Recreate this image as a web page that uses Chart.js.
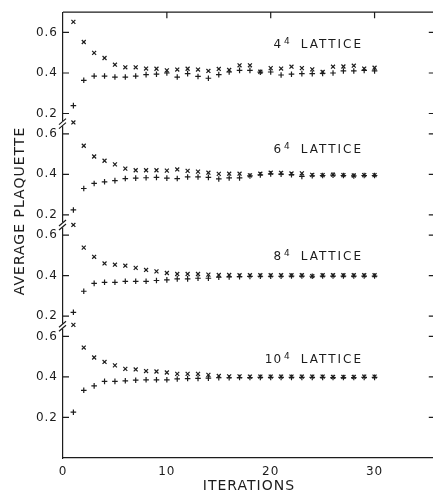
<!DOCTYPE html>
<html>
<head>
<meta charset="utf-8">
<script src="https://cdn.jsdelivr.net/npm/chart.js@4.4.1/dist/chart.umd.min.js"></script>
<style>
  html, body { margin: 0; padding: 0; background: #fff; overflow: hidden; width: 433px; height: 496px; }
  canvas { display: block; }
</style>
</head>
<body>
<canvas id="grafico" width="440" height="496"></canvas>
<script>
// iteraciones (eje x)
const ITERACIONES = [1, 2, 3, 4, 5, 6, 7, 8, 9, 10, 11, 12, 13, 14, 15, 16, 17, 18, 19, 20, 21, 22, 23, 24, 25, 26, 27, 28, 29, 30];

// tamaño del retículo de cada panel, de arriba a abajo
const RETICULOS = ["4", "6", "8", "10"];

// plaqueta media: arranque en frío (x) y en caliente (+)
const CRUCES_4 = [0.652, 0.553, 0.499, 0.474, 0.441, 0.428, 0.428, 0.422, 0.421, 0.413, 0.417, 0.421, 0.417, 0.41, 0.42, 0.415, 0.438, 0.438, 0.406, 0.424, 0.422, 0.431, 0.424, 0.418, 0.405, 0.431, 0.432, 0.436, 0.422, 0.426];
const MAS_4 = [0.239, 0.364, 0.385, 0.385, 0.38, 0.38, 0.385, 0.392, 0.394, 0.4, 0.38, 0.397, 0.383, 0.374, 0.392, 0.405, 0.413, 0.413, 0.404, 0.405, 0.39, 0.394, 0.397, 0.397, 0.398, 0.4, 0.41, 0.41, 0.413, 0.41];

const CRUCES_6 = [0.656, 0.541, 0.488, 0.467, 0.449, 0.428, 0.42, 0.42, 0.42, 0.418, 0.424, 0.417, 0.413, 0.408, 0.402, 0.403, 0.403, 0.395, 0.403, 0.408, 0.407, 0.404, 0.405, 0.397, 0.396, 0.398, 0.396, 0.394, 0.396, 0.396];
const MAS_6 = [0.224, 0.33, 0.355, 0.363, 0.369, 0.379, 0.381, 0.383, 0.385, 0.381, 0.379, 0.387, 0.387, 0.385, 0.377, 0.382, 0.382, 0.392, 0.397, 0.402, 0.401, 0.398, 0.39, 0.393, 0.394, 0.396, 0.394, 0.392, 0.394, 0.394];

const CRUCES_8 = [0.65, 0.538, 0.493, 0.46, 0.454, 0.449, 0.438, 0.428, 0.421, 0.413, 0.408, 0.408, 0.408, 0.405, 0.403, 0.403, 0.402, 0.402, 0.402, 0.402, 0.402, 0.402, 0.402, 0.398, 0.402, 0.402, 0.402, 0.402, 0.402, 0.402];
const MAS_8 = [0.219, 0.323, 0.362, 0.367, 0.367, 0.372, 0.372, 0.372, 0.376, 0.379, 0.384, 0.384, 0.387, 0.387, 0.392, 0.394, 0.395, 0.396, 0.397, 0.397, 0.397, 0.398, 0.398, 0.397, 0.398, 0.398, 0.398, 0.398, 0.398, 0.398];

const CRUCES_10 = [0.657, 0.545, 0.496, 0.474, 0.457, 0.44, 0.437, 0.429, 0.427, 0.422, 0.415, 0.415, 0.415, 0.41, 0.405, 0.403, 0.403, 0.402, 0.402, 0.402, 0.402, 0.402, 0.402, 0.402, 0.402, 0.4, 0.4, 0.4, 0.402, 0.402];
const MAS_10 = [0.226, 0.334, 0.356, 0.378, 0.378, 0.381, 0.384, 0.386, 0.386, 0.386, 0.39, 0.392, 0.393, 0.394, 0.396, 0.396, 0.397, 0.397, 0.398, 0.398, 0.398, 0.398, 0.398, 0.398, 0.398, 0.397, 0.397, 0.397, 0.398, 0.398];

const CRUCES = [CRUCES_4, CRUCES_6, CRUCES_8, CRUCES_10];
const MAS = [MAS_4, MAS_6, MAS_8, MAS_10];

// marcas de los ejes
const TICKS_X = [0, 10, 20, 30];
const TICKS_Y = [0.2, 0.4, 0.6];
const TICKS_Y_TXT = ["0.2", "0.4", "0.6"];

// eje y partido: cada panel se desplaza hacia arriba
const DESPLAZAMIENTO = [1.5, 1.0, 0.5, 0];
const ETIQUETA_Y = [0.525, 0.505, 0.475, 0.47];

const TINTA = "#1c1c1c";
const FUENTE = "'DejaVu Sans', sans-serif";

const posTicksY = [];
const txtTicksY = [];
[...DESPLAZAMIENTO].reverse().forEach((d) => {
  TICKS_Y.forEach((t, i) => { posTicksY.push(+(t + d).toFixed(3)); txtTicksY.push(TICKS_Y_TXT[i]); });
});

const datasets = [];
RETICULOS.forEach((r, p) => {
  const d = DESPLAZAMIENTO[p];
  datasets.push({
    label: r + " x",
    data: ITERACIONES.map((it, i) => ({ x: it, y: CRUCES[p][i] + d })),
    pointStyle: "crossRot", pointRadius: 2.8, borderWidth: 1.2, borderColor: TINTA, backgroundColor: TINTA,
  });
  datasets.push({
    label: r + " +",
    data: ITERACIONES.map((it, i) => ({ x: it, y: MAS[p][i] + d })),
    pointStyle: "cross", pointRadius: 2.8, borderWidth: 1.2, borderColor: TINTA, backgroundColor: TINTA,
  });
});

const marco = {
  id: "marco",
  beforeDraw(chart) {
    chart.ctx.letterSpacing = "1px";
  },
  afterDraw(chart) {
    const { ctx, chartArea: { left, right, top, bottom }, scales: { x, y } } = chart;
    ctx.save();
    ctx.strokeStyle = TINTA;
    ctx.lineWidth = 1.2;

    // borde superior y marcas hacia dentro
    ctx.beginPath();
    ctx.moveTo(left, top); ctx.lineTo(right, top);
    ctx.moveTo(right, top); ctx.lineTo(right, bottom);
    TICKS_X.slice(1).forEach((t) => {
      const px = x.getPixelForValue(t);
      ctx.moveTo(px, top); ctx.lineTo(px, top + 6);
    });
    posTicksY.forEach((v) => {
      const py = y.getPixelForValue(v);
      ctx.moveTo(left, py); ctx.lineTo(left + 6, py);
      ctx.moveTo(right, py); ctx.lineTo(right - 6, py);
    });
    ctx.stroke();

    // cortes del eje entre paneles
    DESPLAZAMIENTO.filter((d) => d > 0).forEach((d) => {
      const py = y.getPixelForValue(d + 0.15);
      ctx.fillStyle = "#fff";
      ctx.fillRect(left - 2, py - 2.5, 4, 5);
      ctx.beginPath();
      ctx.moveTo(left - 4, py + 1); ctx.lineTo(left + 3, py - 5);
      ctx.moveTo(left - 4, py + 5); ctx.lineTo(left + 3, py - 1);
      ctx.stroke();
    });

    // rótulos de cada panel
    ctx.fillStyle = TINTA;
    ctx.textBaseline = "alphabetic";
    const xs = x.getPixelForValue(22.9);
    RETICULOS.forEach((r, p) => {
      const py = y.getPixelForValue(ETIQUETA_Y[p] + DESPLAZAMIENTO[p]);
      ctx.letterSpacing = "2px";
      ctx.font = "12px " + FUENTE;
      ctx.textAlign = "left";
      ctx.fillText("LATTICE", xs, py);
      ctx.letterSpacing = "0px";
      ctx.font = "9px " + FUENTE;
      ctx.textAlign = "right";
      const supFin = xs - 11;
      ctx.fillText("4", supFin, py - 4);
      const supAncho = ctx.measureText("4").width;
      ctx.font = "12px " + FUENTE;
      ctx.letterSpacing = "1px";
      ctx.fillText(r, supFin - supAncho - 2, py);
    });

    // título del eje y
    ctx.save();
    ctx.translate(20, 211);
    ctx.rotate(-Math.PI / 2);
    ctx.font = "14px " + FUENTE;
    ctx.letterSpacing = "1px";
    ctx.textAlign = "center";
    ctx.textBaseline = "middle";
    ctx.fillText("AVERAGE PLAQUETTE", 0, 0);
    ctx.restore();

    ctx.restore();
  },
};

new Chart(document.getElementById("grafico"), {
  type: "scatter",
  data: { datasets },
  plugins: [marco],
  options: {
    responsive: false,
    animation: false,
    devicePixelRatio: 1,
    layout: { padding: { top: 12, right: 4, left: 0, bottom: 0 } },
    plugins: { legend: { display: false }, tooltip: { enabled: false } },
    scales: {
      x: {
        type: "linear",
        min: 0,
        max: 35.8,
        afterBuildTicks: (s) => { s.ticks = TICKS_X.map((v) => ({ value: v })); },
        afterFit: (s) => { s.height = 38; },
        grid: { display: false, drawTicks: false },
        border: { display: true, color: TINTA, width: 1.2 },
        ticks: { color: TINTA, padding: 7, maxRotation: 0, font: { size: 12, family: FUENTE } },
        title: { display: true, text: "ITERATIONS", color: TINTA, padding: { top: 0, bottom: 1 }, font: { size: 14, family: FUENTE } },
      },
      y: {
        type: "linear",
        min: 0,
        max: 2.2,
        afterBuildTicks: (s) => { s.ticks = posTicksY.map((v) => ({ value: v })); },
        afterFit: (s) => { s.width = 63; },
        grid: { display: false, drawTicks: false },
        border: { display: true, color: TINTA, width: 1.2 },
        ticks: { color: TINTA, padding: 5, font: { size: 12, family: FUENTE }, callback: (v, i) => txtTicksY[i] },
      },
    },
  },
});
</script>
</body>
</html>
